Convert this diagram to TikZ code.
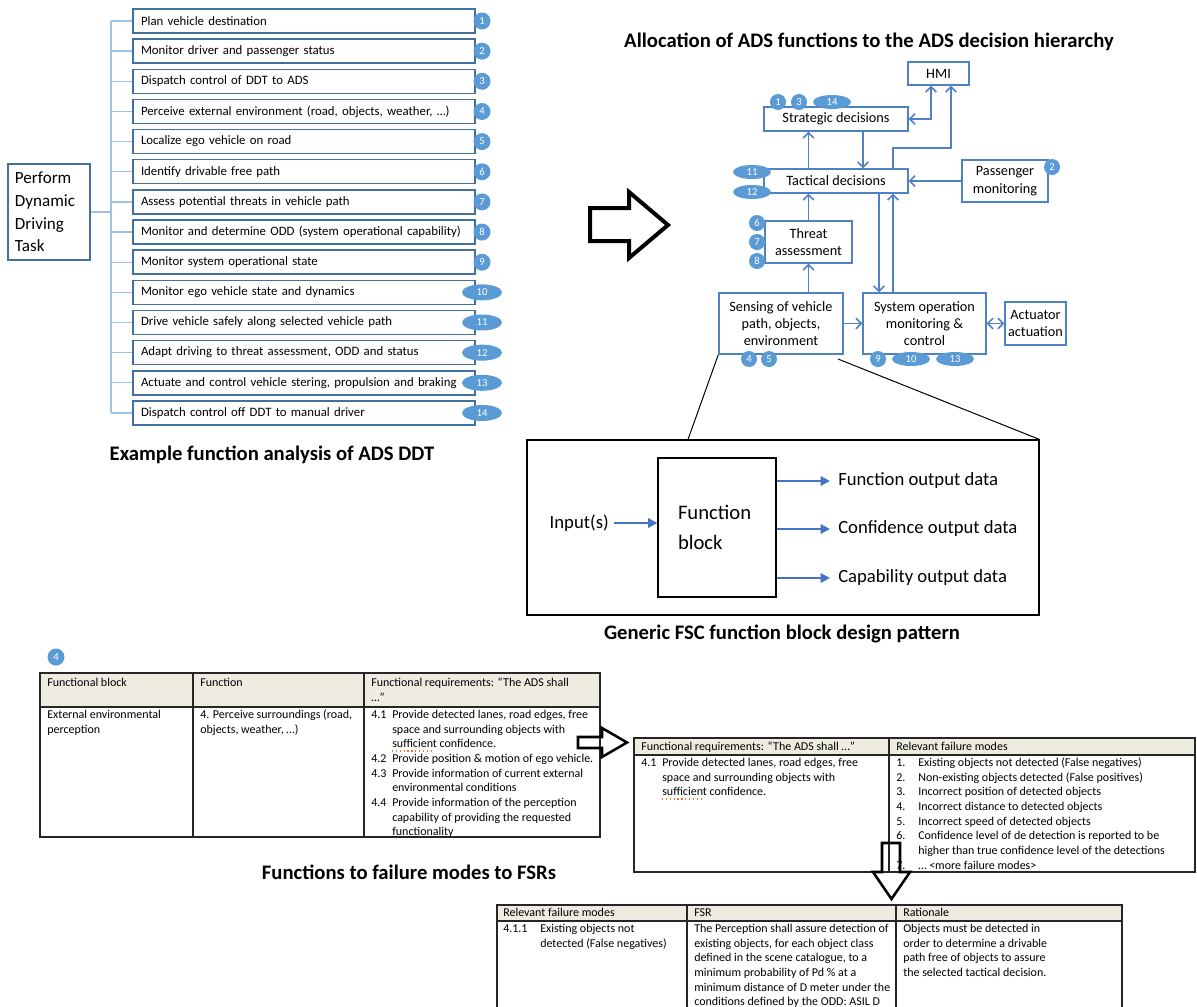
\documentclass[tikz,border=0pt]{standalone}
\usepackage{fontspec}
\setmainfont{Carlito}
\usetikzlibrary{shapes.geometric,arrows.meta}
\definecolor{badgeblue}{RGB}{91,155,213}
\definecolor{listedge}{RGB}{65,113,156}
\definecolor{treeblue}{RGB}{157,195,230}
\definecolor{hiedge}{RGB}{79,129,199}
\definecolor{flowblue}{RGB}{68,114,196}
\definecolor{headfill}{RGB}{238,236,225}
\definecolor{spellred}{RGB}{230,120,60}
\newcommand\tblfont{\fontsize{9}{11}\selectfont}
\newcommand\listfont{\fontsize{9.6}{12}\selectfont}
\newcommand\hifont{\fontsize{10.7}{13}\selectfont}
\newcommand\capfont{\fontsize{15.5}{18}\selectfont\bfseries}
\newcommand\numfont{\fontsize{8}{8}\selectfont}
% stacked lines whose reference point is the first baseline
\newcommand\tl[1]{\begin{tabular}[t]{@{}l@{}}#1\end{tabular}}
\begin{document}
\begin{tikzpicture}[x=0.75pt,y=-0.75pt,
  listbox/.style={draw=listedge, line width=1.1pt, fill=white, minimum height=18pt,
    text width=244.5pt, inner xsep=6pt, inner ysep=0pt, align=left, font=\listfont},
  cbadge/.style={circle, fill=badgeblue, text=white, inner sep=0pt, minimum size=12.75pt, font=\numfont},
  ebadge/.style={ellipse, fill=badgeblue, text=white, inner sep=0pt, minimum width=30pt, minimum height=12pt, font=\numfont},
  hcbadge/.style={cbadge, minimum size=12pt},
  hebadge/.style={ebadge, minimum width=28.5pt, minimum height=10.5pt},
  tree/.style={draw=treeblue, line width=1pt},
  hbox/.style={draw=hiedge, line width=1.1pt, fill=white, align=center, inner sep=0pt, font=\hifont},
  harr/.style={draw=hiedge, line width=1.1pt, -{Straight Barb[length=4pt,width=8pt]}},
  hdarr/.style={draw=hiedge, line width=1.1pt, {Straight Barb[length=4pt,width=8pt]}-{Straight Barb[length=4pt,width=8pt]}},
  hollow/.style={draw=black, line width=3pt, line join=miter},
  farr/.style={draw=flowblue, line width=1.5pt, -{Triangle[length=7pt,width=7pt]}},
  ftext/.style={inner sep=0pt, font=\fontsize{14}{17}\selectfont},
  callout/.style={draw=black, line width=0.75pt},
  captext/.style={inner sep=0pt, font=\capfont},
  tt/.style={anchor=base west, inner sep=0pt, font=\tblfont},
  tblline/.style={draw=black!85, line width=0.8pt},
  spell/.style={draw=spellred, line width=0.9pt, dotted}
]
\useasboundingbox (0,0) rectangle (1197,1007);

% ---------- function tree ----------
\node[draw=listedge, line width=1.1pt, minimum width=61.5pt, minimum height=72pt, text width=51pt,
  inner xsep=5.25pt, align=left, font=\fontsize{12.8}{17}\selectfont] (pdt) at (49,212)
  {Perform\\Dynamic\\Driving\\Task};
\coordinate (trunk) at (111,0);
\foreach \i/\t [evaluate=\i as \yy using 21+30.15*(\i-1)] in {
  1/{Plan vehicle destination},
  2/{Monitor driver and passenger status},
  3/{Dispatch control of DDT to ADS},
  4/{Perceive external environment (road, objects, weather, …)},
  5/{Localize ego vehicle on road},
  6/{Identify drivable free path},
  7/{Assess potential threats in vehicle path},
  8/{Monitor and determine ODD (system operational capability)},
  9/{Monitor system operational state},
  10/{Monitor ego vehicle state and dynamics},
  11/{Drive vehicle safely along selected vehicle path},
  12/{Adapt driving to threat assessment, ODD and status},
  13/{Actuate and control vehicle stering, propulsion and braking},
  14/{Dispatch control off DDT to manual driver}} {
  \node[listbox] (li\i) at (304,\yy) {\mbox{\t}};
  \ifnum\i<10
    \node[cbadge] (nb\i) at (482,\yy) {\i};
  \else
    \node[ebadge] (nb\i) at (482,\yy) {\i};
  \fi
  \draw[tree] (trunk |- li\i.west) -- (li\i.west);
}
\draw[tree] (pdt.east) -- (trunk |- pdt.east);
\draw[tree] (trunk |- li1.west) -- (trunk |- li14.west);
\node[captext] (cap1) at (272,455) {Example function analysis of ADS DDT};

% ---------- big hollow arrow ----------
\draw[hollow] (590,208) -- (629,208) -- (629,192) -- (668,225) -- (629,258) -- (629,241) -- (590,241) -- cycle;

% ---------- decision hierarchy ----------
\node[captext] (cap2) at (869,42) {Allocation of ADS functions to the ADS decision hierarchy};
\node[hbox, minimum width=45.75pt, minimum height=17.25pt] (hmi) at (938.5,73.5) {HMI};
\node[hbox, minimum width=108pt, minimum height=18pt] (str) at (836,119) {Strategic decisions};
\node[hbox, minimum width=108pt, minimum height=18pt] (tac) at (836,181) {Tactical decisions};
\node[hbox, minimum width=64.5pt, minimum height=31.5pt] (pas) at (1005,181) {Passenger\\monitoring};
\node[hbox, minimum width=65.25pt, minimum height=31.5pt] (thr) at (808.5,242) {Threat\\assessment};
\node[hbox, minimum width=93pt, minimum height=45.75pt] (sen) at (781,323.5) {Sensing of vehicle\\path, objects,\\environment};
\node[hbox, minimum width=92.25pt, minimum height=45.75pt] (sys) at (924.5,323.5) {System operation\\monitoring \&\\control};
\node[hbox, minimum width=45.75pt, minimum height=32.25pt] (act) at (1035.5,323.5) {Actuator\\actuation};

\coordinate (xa) at (931,0);
\coordinate (xb) at (893,0);
\coordinate (xd) at (863,0);
\coordinate (xe) at (879,0);
\coordinate (hm2) at (951,148);
\draw[hdarr] (str.east) -| (xa |- hmi.south);
\draw[harr] (xb |- tac.north) |- (hm2) -- (hm2 |- hmi.south);
\draw[harr] (thr.north |- tac.north) -- (thr.north |- str.south);
\draw[harr] (xd |- str.south) -- (xd |- tac.north);
\draw[harr] (pas.west) -- (pas.west -| tac.east);
\draw[harr] (thr.north) -- (thr.north |- tac.south);
\draw[harr] (xe |- tac.south) -- (xe |- sys.north);
\draw[harr] (xb |- sys.north) -- (xb |- tac.south);
\draw[harr] (sen.north -| thr.south) -- (thr.south);
\draw[harr] (sen.east) -- (sys.west);
\draw[hdarr] (sys.east) -- (act.west);

\node[hcbadge] (h1) at (778,102) {1};
\node[hcbadge] (h3) at (799,102) {3};
\node[hebadge] (h14) at (832,102) {14};
\node[hcbadge] (h2) at (1052,167) {2};
\node[hebadge] (h11) at (752,172) {11};
\node[hebadge] (h12) at (752,192) {12};
\node[hcbadge] (h6) at (757,223) {6};
\node[hcbadge] (h7) at (757,242) {7};
\node[hcbadge] (h8) at (757,261) {8};
\node[hcbadge] (h4) at (749,359) {4};
\node[hcbadge] (h5) at (769,359) {5};
\node[hcbadge] (h9) at (878,359) {9};
\node[hebadge] (h10) at (911,359) {10};
\node[hebadge] (h13) at (955,359) {13};

% ---------- generic function block ----------
\node[draw=black, line width=0.8pt, minimum width=384pt, minimum height=131.25pt, inner sep=0pt] (frame) at (783,527.5) {};
\coordinate (cl) at (688,440);
\coordinate (cr) at (838,359);
\draw[callout] (sen.south west) -- (cl |- frame.north);
\draw[callout] (cr) -- (frame.north east);
\node[draw=black, line width=0.8pt, minimum width=88.5pt, minimum height=104.25pt, text width=58.5pt,
  inner xsep=15pt, align=left, font=\fontsize{15.5}{22.5}\selectfont] (fb) at (717,527.5) {Function\\block};
\node[ftext, anchor=east] (inp) at (609,523) {Input(s)};
\draw[farr] ([xshift=4pt]inp.east) -- (fb.west |- inp.east);
\node[ftext, anchor=west] (o1) at (838,481) {Function output data};
\node[ftext, anchor=west] (o2) at (838,529) {Confidence output data};
\node[ftext, anchor=west] (o3) at (838,578) {Capability output data};
\draw[farr] (fb.east |- o1.west) -- ([xshift=-6pt]o1.west);
\draw[farr] (fb.east |- o2.west) -- ([xshift=-6pt]o2.west);
\draw[farr] (fb.east |- o3.west) -- ([xshift=-6pt]o3.west);
\node[captext] (cap3) at (782,634) {Generic FSC function block design pattern};

% ---------- table: functions ----------
\node[cbadge] (b4) at (56,657) {4};
\fill[headfill] (40,673) rectangle (600,707);
\draw[tblline] (40,673) rectangle (600,837) (40,707) -- (600,707) (193,673) -- (193,837) (364,673) -- (364,837);
\node[tt] (t1h1) at (47,686.5) {\tl{Functional block}};
\node[tt] (t1h2) at (200,686.5) {\tl{Function}};
\node[tt] (t1h3) at (371,686.5) {\tl{Functional requirements: “The ADS shall\\…”}};
\node[tt] (t1r1) at (47,718.5) {\tl{External environmental\\perception}};
\node[tt] (t1r2) at (200,718.5) {\tl{4. Perceive surroundings (road,\\objects, weather, …)}};
\node[tt] (n41) at (371,718.5) {\tl{4.1}};
\node[tt] (r41) at (392,718.5) {\tl{Provide detected lanes, road edges, free\\space and surrounding objects with\\sufficient confidence.}};
\node[tt] (n42) at (371,762.5) {\tl{4.2}};
\node[tt] (r42) at (392,762.5) {\tl{Provide position \& motion of ego vehicle.}};
\node[tt] (n43) at (371,777.2) {\tl{4.3}};
\node[tt] (r43) at (392,777.2) {\tl{Provide information of current external\\environmental conditions}};
\node[tt] (n44) at (371,806.5) {\tl{4.4}};
\node[tt] (r44) at (392,806.5) {\tl{Provide information of the perception\\capability of providing the requested\\functionality}};
\draw[spell] (392,751) -- (431,751);
\node[captext] (cap4) at (409,872) {Functions to failure modes to FSRs};

% ---------- table: failure modes ----------
\fill[headfill] (634,738) rectangle (1195,755);
\draw[tblline] (634,738) rectangle (1195,872) (634,755) -- (1195,755) (889,738) -- (889,872);
\node[tt] (t2h1) at (641,750.5) {\tl{Functional requirements: “The ADS shall …”}};
\node[tt] (t2h2) at (896,750.5) {\tl{Relevant failure modes}};
\node[tt] (t2n) at (641,766.5) {\tl{4.1}};
\node[tt] (t2r) at (662,766.5) {\tl{Provide detected lanes, road edges, free\\space and surrounding objects with\\sufficient confidence.}};
\draw[spell] (662,799) -- (701,799);
\node[tt] (t2k) at (896,766.5) {\tl{1.\\2.\\3.\\4.\\5.\\6.\\\\7.}};
\node[tt] (t2f) at (918,766.5) {\tl{Existing objects not detected (False negatives)\\Non-existing objects detected (False positives)\\Incorrect position of detected objects\\Incorrect distance to detected objects\\Incorrect speed of detected objects\\Confidence level of de detection is reported to be\\higher than true confidence level of the detections\\… <more failure modes>}};

% ---------- table: FSR ----------
\fill[headfill] (497,905) rectangle (1122,921);
\draw[tblline] (497,1012) -- (497,905) -- (1122,905) -- (1122,1012) (497,921) -- (1122,921)
  (687,905) -- (687,1012) (896,905) -- (896,1012);
\node[tt] (t3h1) at (503,916.5) {\tl{Relevant failure modes}};
\node[tt] (t3h2) at (694,916.5) {\tl{FSR}};
\node[tt] (t3h3) at (903,916.5) {\tl{Rationale}};
\node[tt] (t3n) at (503,932.5) {\tl{4.1.1}};
\node[tt] (t3a) at (540,932.5) {\tl{Existing objects not\\detected (False negatives)}};
\node[tt] (t3b) at (694,932.5) {\tl{The Perception shall assure detection of\\existing objects, for each object class\\defined in the scene catalogue, to a\\minimum probability of Pd \% at a\\minimum distance of D meter under the\\conditions defined by the ODD: ASIL D}};
\node[tt] (t3c) at (903,932.5) {\tl{Objects must be detected in\\order to determine a drivable\\path free of objects to assure\\the selected tactical decision.}};

% ---------- small hollow arrows between tables ----------
\draw[hollow, line width=1.9pt] (578,737) -- (602,737) -- (602,728) -- (627,742.5) -- (602,757) -- (602,748) -- (578,748) -- cycle;
\draw[hollow, line width=1.9pt] (882,843) -- (900,843) -- (900,872) -- (910,872) -- (891.5,899) -- (873,872) -- (882,872) -- cycle;
\end{tikzpicture}
\end{document}
